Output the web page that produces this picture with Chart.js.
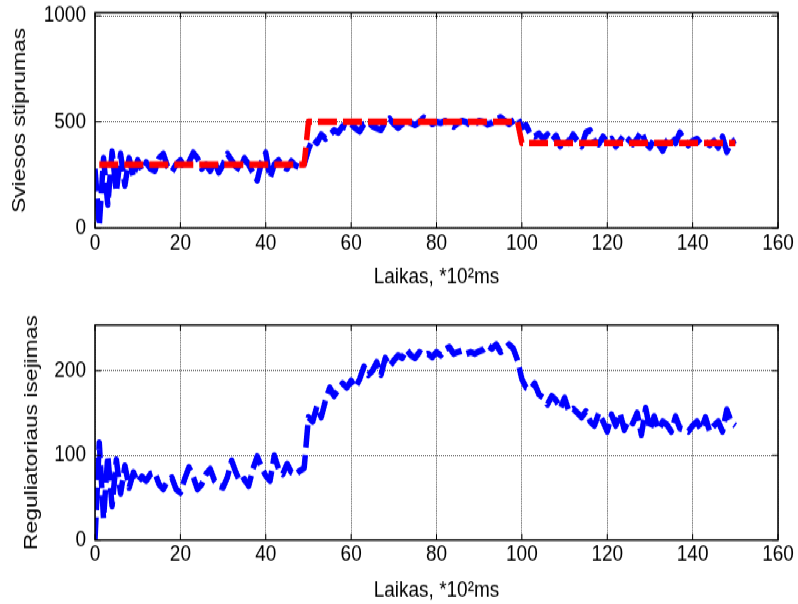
<!DOCTYPE html>
<html>
<head>
<meta charset="utf-8">
<script src="https://cdn.jsdelivr.net/npm/chart.js@4.4.1/dist/chart.umd.min.js"></script>
<style>
  html, body { margin: 0; padding: 0; background: #fff; width: 798px; height: 604px; overflow: hidden; }
  #page { width: 798px; height: 604px; position: relative; overflow: hidden; }
  /* figure is drawn at 798x503 and stretched vertically to fill the page */
  #wrap { position: absolute; left: 0; top: 0; width: 798px; height: 503px; transform: scaleY(1.2008); transform-origin: 0 0; }
  canvas { display: block; }
</style>
</head>
<body>
<div id="page">
  <div id="wrap">
    <canvas id="light" width="798" height="252"></canvas>
    <canvas id="output" width="798" height="251"></canvas>
  </div>
</div>
<script>
// sample index, *10^2 ms
const time = Array.from({ length: 151 }, (_, i) => i);

// measured light level
const lightLevel = [
  280, 10, 330, 110, 360, 170, 350, 200, 330, 240,
  320, 270, 310, 280, 270, 330, 350, 290, 265, 300,
  320, 285, 310, 355, 330, 280, 300, 270, 315, 262,
  300, 350, 320, 290, 275, 330, 300, 260, 225, 310,
  355, 235, 300, 320, 290, 280, 315, 295, 285, 300,
  370, 420, 400, 440, 420, 440, 460, 450, 480, 470,
  490, 470, 455, 490, 500, 480, 470, 462, 500, 515,
  490, 472, 490, 505, 495, 485, 500, 520, 510, 490,
  500, 495, 505, 490, 478, 495, 505, 498, 485, 490,
  505, 500, 488, 495, 510, 522, 505, 490, 505, 520,
  475, 485, 440, 430, 445, 420, 440, 410, 435, 385,
  425, 400, 440, 410, 385, 450, 460, 410, 395, 430,
  405, 420, 385, 410, 440, 415, 395, 420, 455, 400,
  380, 420, 395, 365, 410, 430, 400, 450, 415, 390,
  410, 420, 395, 405, 390, 410, 380, 430, 360, 400,
  415
];

// setpoint steps
const setTime = [1, 49, 50, 99, 100, 150];
const setLevel = [300, 300, 500, 500, 400, 400];

// controller output
const ctrlOutput = [
  0, 115, 25, 100, 40, 95, 55, 88, 62, 80,
  68, 75, 70, 78, 80, 66, 60, 70, 74, 60,
  56, 72, 86, 75, 60, 66, 78, 84, 70, 64,
  62, 74, 94, 80, 68, 72, 64, 84, 99, 86,
  76, 70, 100, 84, 78, 90, 80, 77, 82, 85,
  145, 140, 158, 145, 165, 180, 170, 178, 185, 180,
  188, 180, 190, 205, 195, 200, 210, 195, 215, 205,
  212, 218, 215, 225, 218, 215, 222, 218, 220, 216,
  222, 218, 225, 228, 220, 222, 224, 220, 222, 220,
  223, 225, 230, 226, 231, 222, 225, 231, 226, 212,
  190, 180, 178, 185, 172, 168, 160, 170, 165, 155,
  168, 152, 155, 150, 145, 152, 140, 135, 150, 140,
  128, 148, 135, 150, 130, 142, 138, 150, 124, 156,
  130, 146, 130, 140, 136, 128, 146, 132, 130, 128,
  135, 140, 130, 145, 128, 135, 140, 128, 154, 140,
  135
];

const xTicks = [0, 20, 40, 60, 80, 100, 120, 140, 160];
const lightTicks = [0, 500, 1000];
const ctrlTicks = [0, 100, 200];

const FONT = 'Liberation Sans, Arial, Helvetica, sans-serif';

// closed box with short inward tick marks
const frame = {
  id: 'frame',
  afterDraw(chart) {
    const { ctx, chartArea: a, scales: { x, y } } = chart;
    ctx.save();
    ctx.strokeStyle = '#000';
    ctx.lineWidth = 1;
    ctx.beginPath();
    x.ticks.forEach(t => {
      const px = x.getPixelForValue(t.value);
      ctx.moveTo(px, a.bottom); ctx.lineTo(px, a.bottom - 5);
      ctx.moveTo(px, a.top); ctx.lineTo(px, a.top + 5);
    });
    y.ticks.forEach(t => {
      const py = y.getPixelForValue(t.value);
      ctx.moveTo(a.left, py); ctx.lineTo(a.left + 6, py);
      ctx.moveTo(a.right, py); ctx.lineTo(a.right - 6, py);
    });
    ctx.stroke();
    ctx.lineWidth = 1.5;
    ctx.strokeRect(a.left, a.top, a.width, a.height);
    ctx.restore();
  }
};

function lineSet(data, color) {
  return {
    data,
    borderColor: color,
    borderWidth: 5.5,
    borderDash: [19, 6],
    borderCapStyle: 'butt',
    borderJoinStyle: 'round',
    pointRadius: 0,
    tension: 0,
    fill: false
  };
}

function plot(id, datasets, yMax, yTicks, yTitle, o) {
  return new Chart(document.getElementById(id), {
    type: 'line',
    data: { labels: time, datasets },
    options: {
      responsive: false,
      animation: false,
      devicePixelRatio: 1,
      layout: { padding: { top: o.top, right: 20, bottom: 0, left: 0 } },
      plugins: { legend: { display: false }, tooltip: { enabled: false } },
      scales: {
        x: {
          type: 'linear',
          min: 0,
          max: 160,
          afterBuildTicks: s => { s.ticks = xTicks.map(v => ({ value: v })); },
          afterFit: s => { s.height = o.xHeight; s.paddingLeft = 0; s.paddingRight = 0; },
          grid: { color: '#4a4a4a', lineWidth: 1, drawTicks: false },
          border: { display: false, dash: [1, 1] },
          ticks: {
            color: '#000',
            padding: 3,
            maxRotation: 0,
            font: { family: FONT, size: 19, lineHeight: 1 },
            callback: v => String(v)
          },
          title: {
            display: true,
            text: 'Laikas, *10²ms',
            color: '#000',
            font: { family: FONT, size: 19 },
            padding: { top: 0, bottom: o.xTitlePad }
          }
        },
        y: {
          min: 0,
          max: yMax,
          afterBuildTicks: s => { s.ticks = yTicks.map(v => ({ value: v })); },
          afterFit: s => { s.width = 95; s.paddingTop = 0; s.paddingBottom = 0; },
          grid: { color: '#4a4a4a', lineWidth: 1, drawTicks: false },
          border: { display: false, dash: [1, 1] },
          ticks: {
            color: '#000',
            padding: 9,
            font: { family: FONT, size: 19, lineHeight: 1 },
            callback: v => String(v)
          },
          title: {
            display: true,
            text: yTitle,
            color: '#000',
            font: { family: FONT, size: 19 },
            padding: { top: o.yTitlePad, bottom: 0 }
          }
        }
      }
    },
    plugins: [frame]
  });
}

const setpoint = setTime.map((t, i) => ({ x: t, y: setLevel[i] }));

plot('light', [
  lineSet(setpoint, '#ff0000'),
  lineSet(lightLevel, '#0000ff')
], 1015, lightTicks, 'Sviesos stiprumas',
  { top: 10.6, xHeight: 62.1, xTitlePad: 9.9, yTitlePad: 8.6 });

plot('output', [
  lineSet(ctrlOutput, '#0000ff')
], 254, ctrlTicks, 'Reguliatoriaus isejimas',
  { top: 18.7, xHeight: 53.3, xTitlePad: 0.3, yTitlePad: 20.6 });
</script>
</body>
</html>
